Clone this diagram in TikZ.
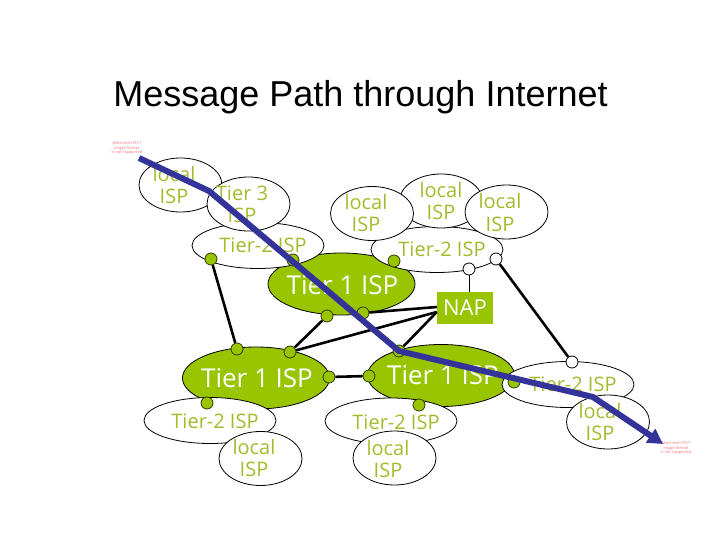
\documentclass[tikz,border=0pt]{standalone}
\usepackage{fontspec}
\setmainfont{Liberation Sans}
\newfontfamily\labelfont{Open Sans}
\usetikzlibrary{shapes.geometric,arrows.meta}
\definecolor{ispgreen}{HTML}{99C400}
\definecolor{ispolive}{HTML}{A3BC2E}
\definecolor{pathblue}{HTML}{333399}
\definecolor{pictred}{HTML}{F07080}
\tikzset{
  oval/.style={shape=ellipse,draw=black,line width=0.8pt,fill=white,inner sep=0pt},
  localoval/.style={oval,minimum width=83pt,minimum height=54pt},
  tiertwooval/.style={oval,minimum width=132pt,minimum height=46pt},
  tieroneoval/.style={oval,fill=ispgreen,minimum width=147pt,minimum height=62pt},
  napbox/.style={shape=rectangle,fill=ispgreen,inner sep=0pt,minimum width=56pt,minimum height=32pt},
  gdot/.style={shape=circle,draw=black!70!ispgreen,line width=0.8pt,fill=ispgreen,inner sep=0pt,minimum size=12pt},
  wdot/.style={gdot,fill=white,draw=black},
  isptext/.style={text=ispolive,font=\labelfont\fontsize{20}{22}\selectfont,align=center,inner sep=0pt},
  tiertext/.style={text=white,font=\labelfont\fontsize{26}{28}\selectfont,align=center,inner sep=0pt},
  pictnote/.style={text=pictred,font=\labelfont\fontsize{4}{4.8}\selectfont,align=center,inner sep=0pt},
  heavy/.style={draw=black,line width=2.6pt},
  thin link/.style={draw=black,line width=0.8pt},
  msgpath/.style={draw=pathblue,line width=6pt,line join=round}
}
\begin{document}
\begin{tikzpicture}[x=1pt,y=-1pt]
\useasboundingbox (0,0) rectangle (720,540);
% title
\node[font=\fontsize{36}{40}\selectfont,anchor=base,inner sep=0pt] (title) at (360.5,107) {Message Path through Internet};
% tier 1 networks
\node[tieroneoval] (t1a) at (341.5,284) {};
\node[tieroneoval] (t1b) at (256,378) {};
\node[tieroneoval] (t1c) at (441,375.5) {};
\node[napbox] (nap) at (465,308) {};
% tier 2 networks
\node[tiertwooval] (t2a) at (258,245.5) {};
\node[tiertwooval] (t2b) at (437,249.5) {};
\node[tiertwooval] (t2c) at (210,420.5) {};
\node[tiertwooval] (t2d) at (391,421) {};
\node[tiertwooval] (t2e) at (568,384.5) {};
% local and tier 3
\node[localoval] (la) at (180.5,185) {};
\node[localoval] (t3) at (248.5,204) {};
\node[localoval] (lmid) at (441,201) {};
\node[localoval] (lb) at (372,213.5) {};
\node[localoval] (lc) at (506.5,212) {};
\node[localoval] (ld) at (260.5,458.5) {};
\node[localoval] (le) at (394.5,458) {};
\node[localoval] (lf) at (608,422) {};
% routers
\node[gdot] (r1) at (211,259) {};
\node[gdot] (r2) at (293,260) {};
\node[gdot] (r3) at (394,261) {};
\node[wdot] (w1) at (469,269) {};
\node[wdot] (w2) at (496,259) {};
\node[gdot] (r4) at (327,316) {};
\node[gdot] (r5) at (363,313) {};
\node[gdot] (r6) at (237,349) {};
\node[gdot] (r7) at (290,352) {};
\node[gdot] (r8) at (329,377) {};
\node[gdot] (r9) at (369,376) {};
\node[gdot] (r10) at (399,351) {};
\node[gdot] (r11) at (207,403) {};
\node[gdot] (r12) at (419,405) {};
\node[gdot] (r13) at (514,382) {};
\node[wdot] (w3) at (572,362) {};
% links
\draw[heavy] (r1) -- (r6);
\draw[heavy] (r4) -- (r7);
\draw[heavy] (r8) -- (r9);
\draw[heavy] (r5) -- (nap.west |- 0,307);
\draw[heavy] (r7) -- (nap.west |- 0,312);
\draw[heavy] (r10) -- (nap.west |- 0,312);
\draw[heavy] (w2) -- (w3);
\draw[thin link] (w1) -- (nap.north -| w1);
% labels
\node[isptext] (tla) at (174,185) {local\\ISP};
\node[isptext] (tt3) at (242,204) {Tier 3\\ISP};
\node[isptext] (tt2a) at (263,245) {Tier-2 ISP};
\node[isptext] (tlb) at (366,213) {local\\ISP};
\node[isptext] (tlmid) at (441,201.5) {local\\ISP};
\node[isptext] (tlc) at (500,212.5) {local\\ISP};
\node[isptext] (tt2b) at (442,249) {Tier-2 ISP};
\node[isptext] (tt2e) at (573,384.5) {Tier-2 ISP};
\node[isptext] (tlf) at (600,422) {local\\ISP};
\node[isptext] (tt2c) at (215,421.5) {Tier-2 ISP};
\node[isptext] (tld) at (254,458) {local\\ISP};
\node[isptext] (tt2d) at (396,422) {Tier-2 ISP};
\node[isptext] (tle) at (388,459) {local\\ISP};
\node[tiertext] (tt1a) at (342.5,285) {Tier 1 ISP};
\node[tiertext] (tt1b) at (257,378) {Tier 1 ISP};
\node[tiertext] (tt1c) at (443,375) {Tier 1 ISP};
\node[text=white,font=\labelfont\fontsize{22}{24}\selectfont,inner sep=0pt] (tnap) at (465,308) {NAP};
\node[pictnote] (notea) at (127,148) {Macintosh PICT\\image format\\is not supported};
\node[pictnote] (noteb) at (676,448) {Macintosh PICT\\image format\\is not supported};
% message path
\coordinate (start) at (139,158);
\coordinate (bend1) at (209,191);
\coordinate (bend2) at (399,351);
\coordinate (bend3) at (593,397);
\coordinate (finish) at (663,444);
\draw[msgpath,-{Triangle[length=15pt,width=16pt]}] (start) -- (bend1) -- (bend2) -- (bend3) -- (finish);
\end{tikzpicture}
\end{document}
